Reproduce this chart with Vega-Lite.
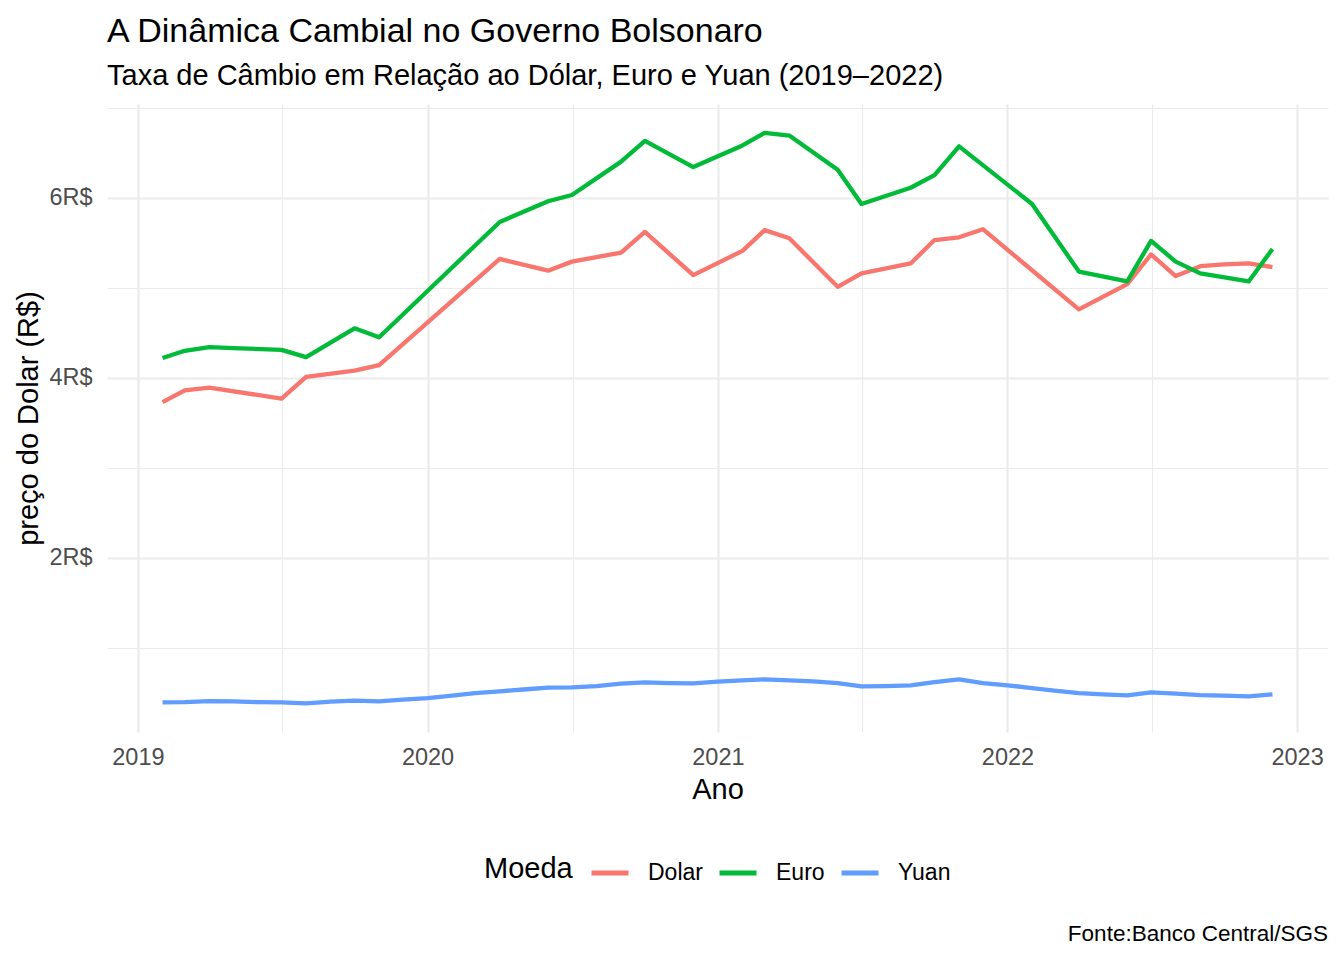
{
  "$schema": "https://vega.github.io/schema/vega-lite/v6.json",
  "description": "A Dinâmica Cambial no Governo Bolsonaro",
  "width": 1221,
  "height": 628,
  "autosize": "none",
  "padding": {"left": 107, "top": 104, "right": 16, "bottom": 228},
  "background": "white",
  "title": {
    "text": "A Dinâmica Cambial no Governo Bolsonaro",
    "subtitle": "Taxa de Câmbio em Relação ao Dólar, Euro e Yuan (2019–2022)",
    "anchor": "start",
    "frame": "group",
    "font": "Liberation Sans",
    "fontSize": 34,
    "fontWeight": "normal",
    "color": "black",
    "subtitleFont": "Liberation Sans",
    "subtitleFontSize": 29,
    "subtitleColor": "black",
    "subtitlePadding": 13,
    "offset": 5
  },
  "config": {
    "view": {"stroke": null},
    "font": "Liberation Sans",
    "axis": {
      "domain": false,
      "ticks": false,
      "tickSize": 0,
      "gridColor": "#EBEBEB",
      "labelFont": "Liberation Sans",
      "labelFontSize": 23.5,
      "labelColor": "#4D4D4D",
      "titleFont": "Liberation Sans",
      "titleFontSize": 29,
      "titleFontWeight": "normal",
      "titleColor": "black"
    }
  },
  "layer": [
    {
      "data": {
        "values": [
          {"date": "2019-02-01", "moeda": "Dolar", "valor": 3.73},
          {"date": "2019-03-01", "moeda": "Dolar", "valor": 3.86},
          {"date": "2019-04-01", "moeda": "Dolar", "valor": 3.89},
          {"date": "2019-07-01", "moeda": "Dolar", "valor": 3.77},
          {"date": "2019-08-01", "moeda": "Dolar", "valor": 4.01},
          {"date": "2019-10-01", "moeda": "Dolar", "valor": 4.08},
          {"date": "2019-11-01", "moeda": "Dolar", "valor": 4.14},
          {"date": "2020-04-01", "moeda": "Dolar", "valor": 5.32},
          {"date": "2020-06-01", "moeda": "Dolar", "valor": 5.19},
          {"date": "2020-07-01", "moeda": "Dolar", "valor": 5.29},
          {"date": "2020-09-01", "moeda": "Dolar", "valor": 5.39},
          {"date": "2020-10-01", "moeda": "Dolar", "valor": 5.62},
          {"date": "2020-12-01", "moeda": "Dolar", "valor": 5.14},
          {"date": "2021-02-01", "moeda": "Dolar", "valor": 5.41},
          {"date": "2021-03-01", "moeda": "Dolar", "valor": 5.64},
          {"date": "2021-04-01", "moeda": "Dolar", "valor": 5.55},
          {"date": "2021-06-01", "moeda": "Dolar", "valor": 5.01},
          {"date": "2021-07-01", "moeda": "Dolar", "valor": 5.16},
          {"date": "2021-09-01", "moeda": "Dolar", "valor": 5.27},
          {"date": "2021-10-01", "moeda": "Dolar", "valor": 5.53},
          {"date": "2021-11-01", "moeda": "Dolar", "valor": 5.56},
          {"date": "2021-12-01", "moeda": "Dolar", "valor": 5.65},
          {"date": "2022-04-01", "moeda": "Dolar", "valor": 4.76},
          {"date": "2022-06-01", "moeda": "Dolar", "valor": 5.04},
          {"date": "2022-07-01", "moeda": "Dolar", "valor": 5.37},
          {"date": "2022-08-01", "moeda": "Dolar", "valor": 5.13},
          {"date": "2022-09-01", "moeda": "Dolar", "valor": 5.24},
          {"date": "2022-10-01", "moeda": "Dolar", "valor": 5.26},
          {"date": "2022-11-01", "moeda": "Dolar", "valor": 5.27},
          {"date": "2022-12-01", "moeda": "Dolar", "valor": 5.23},

          {"date": "2019-02-01", "moeda": "Euro", "valor": 4.22},
          {"date": "2019-03-01", "moeda": "Euro", "valor": 4.30},
          {"date": "2019-04-01", "moeda": "Euro", "valor": 4.34},
          {"date": "2019-05-01", "moeda": "Euro", "valor": 4.33},
          {"date": "2019-07-01", "moeda": "Euro", "valor": 4.31},
          {"date": "2019-08-01", "moeda": "Euro", "valor": 4.23},
          {"date": "2019-10-01", "moeda": "Euro", "valor": 4.55},
          {"date": "2019-11-01", "moeda": "Euro", "valor": 4.45},
          {"date": "2020-04-01", "moeda": "Euro", "valor": 5.73},
          {"date": "2020-06-01", "moeda": "Euro", "valor": 5.96},
          {"date": "2020-07-01", "moeda": "Euro", "valor": 6.03},
          {"date": "2020-09-01", "moeda": "Euro", "valor": 6.40},
          {"date": "2020-10-01", "moeda": "Euro", "valor": 6.63},
          {"date": "2020-12-01", "moeda": "Euro", "valor": 6.34},
          {"date": "2021-02-01", "moeda": "Euro", "valor": 6.58},
          {"date": "2021-03-01", "moeda": "Euro", "valor": 6.72},
          {"date": "2021-04-01", "moeda": "Euro", "valor": 6.69},
          {"date": "2021-06-01", "moeda": "Euro", "valor": 6.31},
          {"date": "2021-07-01", "moeda": "Euro", "valor": 5.93},
          {"date": "2021-09-01", "moeda": "Euro", "valor": 6.11},
          {"date": "2021-10-01", "moeda": "Euro", "valor": 6.25},
          {"date": "2021-11-01", "moeda": "Euro", "valor": 6.57},
          {"date": "2022-02-01", "moeda": "Euro", "valor": 5.93},
          {"date": "2022-04-01", "moeda": "Euro", "valor": 5.18},
          {"date": "2022-06-01", "moeda": "Euro", "valor": 5.07},
          {"date": "2022-07-01", "moeda": "Euro", "valor": 5.52},
          {"date": "2022-08-01", "moeda": "Euro", "valor": 5.29},
          {"date": "2022-09-01", "moeda": "Euro", "valor": 5.16},
          {"date": "2022-11-01", "moeda": "Euro", "valor": 5.07},
          {"date": "2022-12-01", "moeda": "Euro", "valor": 5.43},

          {"date": "2019-02-01", "moeda": "Yuan", "valor": 0.397},
          {"date": "2019-03-01", "moeda": "Yuan", "valor": 0.400},
          {"date": "2019-04-01", "moeda": "Yuan", "valor": 0.410},
          {"date": "2019-05-01", "moeda": "Yuan", "valor": 0.408},
          {"date": "2019-06-01", "moeda": "Yuan", "valor": 0.400},
          {"date": "2019-07-01", "moeda": "Yuan", "valor": 0.398},
          {"date": "2019-08-01", "moeda": "Yuan", "valor": 0.385},
          {"date": "2019-09-01", "moeda": "Yuan", "valor": 0.405},
          {"date": "2019-10-01", "moeda": "Yuan", "valor": 0.417},
          {"date": "2019-11-01", "moeda": "Yuan", "valor": 0.408},
          {"date": "2019-12-01", "moeda": "Yuan", "valor": 0.428},
          {"date": "2020-01-01", "moeda": "Yuan", "valor": 0.444},
          {"date": "2020-02-01", "moeda": "Yuan", "valor": 0.472},
          {"date": "2020-03-01", "moeda": "Yuan", "valor": 0.500},
          {"date": "2020-04-01", "moeda": "Yuan", "valor": 0.520},
          {"date": "2020-05-01", "moeda": "Yuan", "valor": 0.540},
          {"date": "2020-06-01", "moeda": "Yuan", "valor": 0.561},
          {"date": "2020-07-01", "moeda": "Yuan", "valor": 0.563},
          {"date": "2020-08-01", "moeda": "Yuan", "valor": 0.578},
          {"date": "2020-09-01", "moeda": "Yuan", "valor": 0.606},
          {"date": "2020-10-01", "moeda": "Yuan", "valor": 0.619},
          {"date": "2020-11-01", "moeda": "Yuan", "valor": 0.611},
          {"date": "2020-12-01", "moeda": "Yuan", "valor": 0.608},
          {"date": "2021-01-01", "moeda": "Yuan", "valor": 0.628},
          {"date": "2021-02-01", "moeda": "Yuan", "valor": 0.641},
          {"date": "2021-03-01", "moeda": "Yuan", "valor": 0.652},
          {"date": "2021-04-01", "moeda": "Yuan", "valor": 0.641},
          {"date": "2021-05-01", "moeda": "Yuan", "valor": 0.630},
          {"date": "2021-06-01", "moeda": "Yuan", "valor": 0.611},
          {"date": "2021-07-01", "moeda": "Yuan", "valor": 0.574},
          {"date": "2021-08-01", "moeda": "Yuan", "valor": 0.578},
          {"date": "2021-09-01", "moeda": "Yuan", "valor": 0.586},
          {"date": "2021-10-01", "moeda": "Yuan", "valor": 0.622},
          {"date": "2021-11-01", "moeda": "Yuan", "valor": 0.652},
          {"date": "2021-12-01", "moeda": "Yuan", "valor": 0.611},
          {"date": "2022-01-01", "moeda": "Yuan", "valor": 0.586},
          {"date": "2022-02-01", "moeda": "Yuan", "valor": 0.556},
          {"date": "2022-03-01", "moeda": "Yuan", "valor": 0.528},
          {"date": "2022-04-01", "moeda": "Yuan", "valor": 0.500},
          {"date": "2022-05-01", "moeda": "Yuan", "valor": 0.486},
          {"date": "2022-06-01", "moeda": "Yuan", "valor": 0.474},
          {"date": "2022-07-01", "moeda": "Yuan", "valor": 0.508},
          {"date": "2022-08-01", "moeda": "Yuan", "valor": 0.494},
          {"date": "2022-09-01", "moeda": "Yuan", "valor": 0.478},
          {"date": "2022-10-01", "moeda": "Yuan", "valor": 0.472},
          {"date": "2022-11-01", "moeda": "Yuan", "valor": 0.463},
          {"date": "2022-12-01", "moeda": "Yuan", "valor": 0.486}
        ]
      },
      "mark": {"type": "line", "strokeWidth": 4.3, "strokeJoin": "round", "strokeCap": "butt"},
      "encoding": {
        "x": {
          "field": "date",
          "type": "temporal",
          "title": "Ano",
          "scale": {
            "type": "utc",
            "domain": [
              {"year": 2018, "month": 11, "date": 23, "utc": true},
              {"year": 2023, "month": 2, "date": 9, "utc": true}
            ],
            "nice": false
          },
          "axis": {
            "values": [
              {"year": 2019, "month": 1, "date": 1, "utc": true},
              {"year": 2019, "month": 7, "date": 2, "utc": true},
              {"year": 2020, "month": 1, "date": 1, "utc": true},
              {"year": 2020, "month": 7, "date": 2, "utc": true},
              {"year": 2021, "month": 1, "date": 1, "utc": true},
              {"year": 2021, "month": 7, "date": 2, "utc": true},
              {"year": 2022, "month": 1, "date": 1, "utc": true},
              {"year": 2022, "month": 7, "date": 2, "utc": true},
              {"year": 2023, "month": 1, "date": 1, "utc": true}
            ],
            "labelExpr": "utcmonth(datum.value) === 0 ? utcFormat(datum.value, '%Y') : ''",
            "gridWidth": {"condition": {"test": "utcmonth(datum.value) !== 0", "value": 1.1}, "value": 2.2},
            "labelPadding": 13,
            "labelFlush": false,
            "labelOverlap": false,
            "titlePadding": 7
          }
        },
        "y": {
          "field": "valor",
          "type": "quantitative",
          "title": "preço do Dolar (R$)",
          "scale": {"domain": [0.068, 7.04], "nice": false, "zero": false},
          "axis": {
            "values": [1, 2, 3, 4, 5, 6, 7],
            "labelExpr": "datum.value % 2 === 0 ? datum.value + 'R$' : ''",
            "gridWidth": {"condition": {"test": "datum.value % 2 === 1", "value": 1.1}, "value": 2.2},
            "labelPadding": 15,
            "labelOverlap": false,
            "titleX": -64,
            "titleY": 314,
            "titleAngle": 270,
            "titleBaseline": "bottom"
          }
        },
        "color": {
          "field": "moeda",
          "type": "nominal",
          "title": "Moeda",
          "scale": {"domain": ["Dolar", "Euro", "Yuan"], "range": ["#F8766D", "#00BA38", "#619CFF"]},
          "legend": {
            "orient": "none",
            "legendX": 377,
            "legendY": 748,
            "direction": "horizontal",
            "titleOrient": "left",
            "titleFont": "Liberation Sans",
            "titleFontSize": 29,
            "titleFontWeight": "normal",
            "titleColor": "black",
            "titlePadding": 16,
            "labelFont": "Liberation Sans",
            "labelFontSize": 23,
            "labelColor": "black",
            "labelOffset": 17,
            "symbolType": "stroke",
            "symbolSize": 1369,
            "symbolStrokeWidth": 5,
            "columnPadding": 6
          }
        }
      }
    },
    {
      "data": {"values": [{"fonte": "Fonte:Banco Central/SGS"}]},
      "mark": {"type": "text", "align": "right", "baseline": "alphabetic", "font": "Liberation Sans", "fontSize": 22.5, "color": "black", "dy": 209},
      "encoding": {
        "text": {"field": "fonte"},
        "x": {"value": "width"},
        "y": {"value": "height"}
      }
    }
  ]
}
